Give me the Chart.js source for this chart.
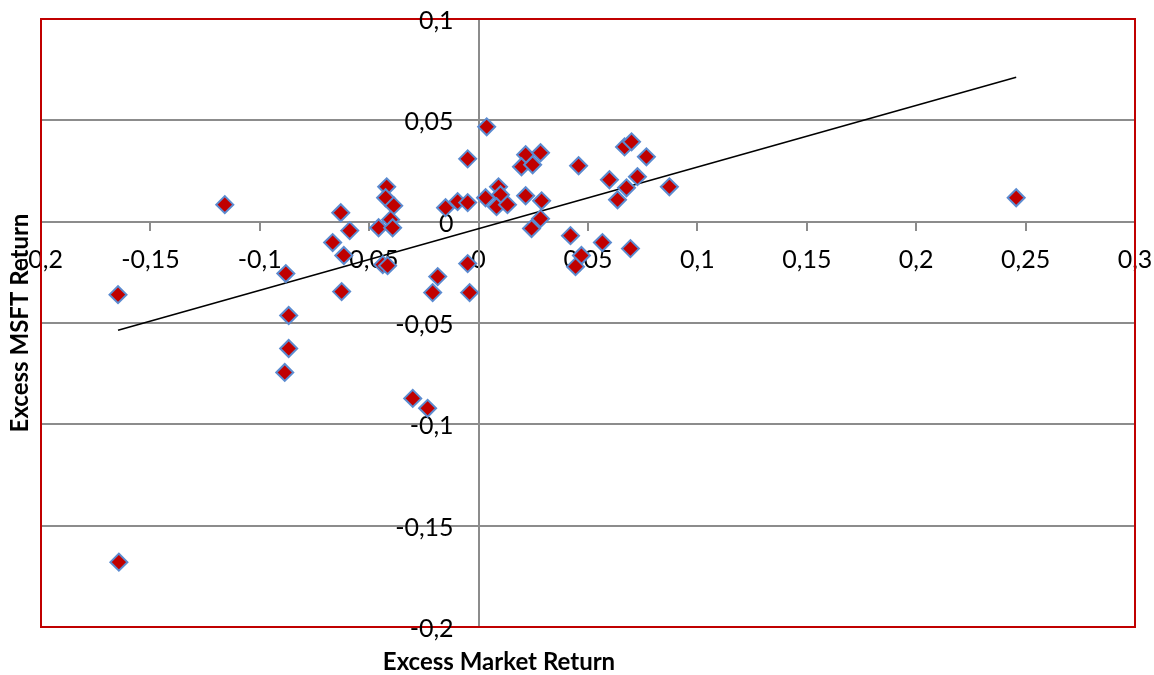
<!DOCTYPE html>
<html>
<head>
<meta charset="utf-8">
<title>Excess MSFT Return vs Excess Market Return</title>
<script src="https://cdn.jsdelivr.net/npm/chart.js@4.4.1/dist/chart.umd.min.js"></script>
<style>
  html, body { margin: 0; padding: 0; background: #ffffff; }
  #wrap { width: 1154px; height: 675px; position: relative; }
  canvas { display: block; }
</style>
</head>
<body>
<div id="wrap"><canvas id="chart" width="1154" height="675"></canvas></div>
<script>
// Monthly excess returns: market (x) and MSFT (y)
const marketReturn = [
  -0.1648, -0.1644, -0.1160, -0.0881, -0.0868, -0.0868, -0.0886, -0.0630, -0.0667, -0.0616,
  -0.0626, -0.0589, -0.0420, -0.0425, -0.0388, -0.0457, -0.0402, -0.0393, -0.0438, -0.0416,
  -0.0187, -0.0210, -0.0050, -0.0041, -0.0151, -0.0096, -0.0050, 0.0032, -0.0050, 0.0037,
  0.0215, 0.0283, 0.0196, 0.0247, 0.0457, 0.0667, 0.0699, 0.0767, 0.0598, 0.0726,
  0.0676, 0.0635, 0.0872, 0.0091, 0.0100, 0.0082, 0.0132, 0.0215, 0.0288, 0.0283,
  0.0242, 0.0420, 0.0566, 0.0694, 0.0470, 0.0443, 0.2457, -0.0301, -0.0233
];
const msftReturn = [
  -0.0360, -0.1680, 0.0084, -0.0256, -0.0463, -0.0626, -0.0744, 0.0044, -0.0103, -0.0167,
  -0.0345, -0.0044, 0.0172, 0.0118, 0.0079, -0.0030, 0.0010, -0.0030, -0.0212, -0.0217,
  -0.0271, -0.0350, -0.0207, -0.0350, 0.0069, 0.0099, 0.0094, 0.0118, 0.0310, 0.0468,
  0.0330, 0.0340, 0.0271, 0.0281, 0.0276, 0.0369, 0.0394, 0.0320, 0.0207, 0.0222,
  0.0167, 0.0108, 0.0172, 0.0172, 0.0133, 0.0074, 0.0084, 0.0128, 0.0103, 0.0015,
  -0.0034, -0.0069, -0.0103, -0.0133, -0.0167, -0.0222, 0.0118, -0.0872, -0.0921
];

// Linear trend line end points
const trendX = [-0.1648, 0.2457];
const trendY = [-0.0536, 0.0713];

// Axis ranges: [min, max, step]
const xRange = [-0.2, 0.3, 0.05];
const yRange = [-0.2, 0.1, 0.05];

const xTitle = 'Excess Market Return';
const yTitle = 'Excess MSFT Return';

const points = marketReturn.map((x, i) => ({ x: x, y: msftReturn[i] }));
const trend = trendX.map((x, i) => ({ x: x, y: trendY[i] }));

const fmt = v => {
  const n = Math.round(v * 100) / 100;
  return String(n).replace('.', ',');
};

const GRID = '#8c8c8c';
const TICK_FONT = { family: 'Lato', size: 25 };

// Crossing axes take no layout room, so the plot fills the frame
const noRoom = scale => {
  if (scale.isHorizontal()) scale.height = 0; else scale.width = 0;
  scale.paddingLeft = scale.paddingRight = 0;
  scale.paddingTop = scale.paddingBottom = 0;
};

// Red plot frame, y tick labels beside the crossing axis, and axis titles
const framePlugin = {
  id: 'frame',
  beforeDatasetsDraw(chart) {
    const { ctx, chartArea: a } = chart;
    ctx.save();
    ctx.strokeStyle = '#c00000';
    ctx.lineWidth = 2;
    ctx.strokeRect(a.left, a.top, a.right - a.left, a.bottom - a.top);

    // y tick labels, right-aligned a little left of the vertical axis
    const xs = chart.scales.x, ys = chart.scales.y;
    const axisX = xs.getPixelForValue(0);
    ctx.fillStyle = '#000';
    ctx.font = TICK_FONT.size + 'px ' + TICK_FONT.family;
    ctx.textAlign = 'right';
    ctx.textBaseline = 'middle';
    ys.ticks.forEach(t => {
      ctx.fillText(fmt(t.value), axisX - 25, ys.getPixelForValue(t.value) + 2);
    });
    ctx.restore();
  },
  afterDraw(chart) {
    const { ctx, chartArea: a } = chart;
    ctx.save();
    ctx.fillStyle = '#000';
    ctx.font = 'bold 24px Lato';
    ctx.textAlign = 'center';
    ctx.textBaseline = 'middle';
    ctx.fillText(xTitle, 499, 662);
    ctx.translate(20, (a.top + a.bottom) / 2);
    ctx.rotate(-Math.PI / 2);
    ctx.fillText(yTitle, 0, 0);
    ctx.restore();
  }
};

new Chart(document.getElementById('chart'), {
  type: 'scatter',
  data: {
    datasets: [
      {
        label: 'Excess MSFT Return',
        data: points,
        pointStyle: 'rectRot',
        pointRadius: 8.5,
        pointHoverRadius: 8.5,
        backgroundColor: '#c00000',
        borderColor: '#5b8bd0',
        borderWidth: 2,
        order: 1
      },
      {
        type: 'line',
        label: 'Trend',
        data: trend,
        borderColor: '#000000',
        borderWidth: 1.6,
        pointRadius: 0,
        fill: false,
        order: 2
      }
    ]
  },
  options: {
    responsive: false,
    animation: false,
    devicePixelRatio: 1,
    layout: { padding: { left: 41, top: 19, right: 19, bottom: 48 } },
    plugins: {
      legend: { display: false },
      tooltip: { enabled: false }
    },
    scales: {
      x: {
        type: 'linear',
        position: { y: 0 },
        min: xRange[0],
        max: xRange[1],
        afterFit: noRoom,
        ticks: {
          stepSize: xRange[2],
          callback: fmt,
          font: TICK_FONT,
          color: '#000',
          padding: 15,
          maxRotation: 0,
          autoSkip: false
        },
        grid: {
          drawOnChartArea: false,
          drawTicks: true,
          tickLength: 8,
          color: GRID,
          lineWidth: 2
        },
        border: { display: true, color: GRID, width: 2 }
      },
      y: {
        type: 'linear',
        position: { x: 0 },
        min: yRange[0],
        max: yRange[1],
        afterFit: noRoom,
        ticks: {
          stepSize: yRange[2],
          display: false,
          autoSkip: false
        },
        grid: {
          drawOnChartArea: true,
          drawTicks: true,
          tickLength: 8,
          color: GRID,
          lineWidth: 2
        },
        border: { display: true, color: GRID, width: 2 }
      }
    }
  },
  plugins: [framePlugin]
});
</script>
</body>
</html>
